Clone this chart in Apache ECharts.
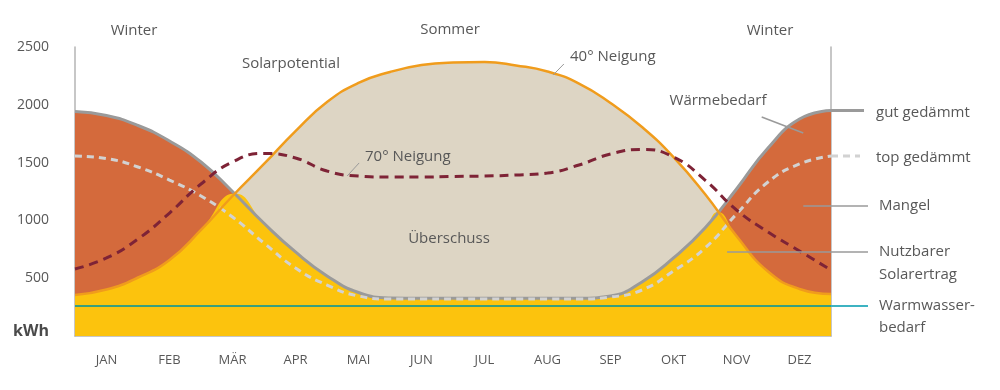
<!DOCTYPE html>
<html><head><meta charset="utf-8">
<script src="https://cdn.jsdelivr.net/npm/echarts@6/dist/echarts.min.js"></script>
<style>html,body{margin:0;padding:0;background:#fff}#c{width:1000px;height:390px}</style>
</head><body><div id="c"></div>
<script>
// ---- data (kWh per month position; positions in months from start of January) ----
const months = ['JAN','FEB','MÄR','APR','MAI','JUN','JUL','AUG','SEP','OKT','NOV','DEZ'];
const monthPos = [0,0.5,1,1.5,2,2.5,3,3.5,4,4.5,5,5.5,6,6.5,7,7.5,8,8.5,9,9.5,10,10.5,11,11.5,12];
const solar40  = [355,402,506,657,917,1211,1488,1773,2024,2189,2284,2344,2366,2370,2340,2288,2184,2016,1808,1548,1228,865,558,407,363];
const solar70  = [580,675,839,1064,1315,1505,1579,1540,1427,1384,1375,1375,1380,1384,1393,1410,1479,1574,1613,1548,1349,1090,900,735,571];
const heatGood = [1942,1907,1821,1687,1505,1250,975,727,520,376,329,326,326,326,326,326,326,346,467,675,934,1272,1626,1877,1951];
const heatTop  = [1557,1535,1462,1349,1211,1029,804,588,441,346,320,320,320,320,320,320,320,337,398,562,761,1055,1332,1488,1557];
const usablePos = [0,0.5,1,1.5,2,2.54,3,3.5,4,4.5,5,5.5,6,6.5,7,7.5,8,8.5,9,9.5,10,10.2,10.5,11,11.5,12];
const usable    = [355,402,506,657,917,1233,975,727,520,376,329,326,326,326,326,326,326,346,467,675,934,1073,865,558,407,363];
const hotWater = 260;
const yTicks = [0,500,1000,1500,2000,2500];

const pairs = (xs, ys) => xs.map((x, i) => [x, ys[i]]);
const FONT = '"Open Sans", "Noto Sans", sans-serif';
const TXT = '#585858';

const chart = echarts.init(document.getElementById('c'), null, {renderer: 'canvas'});
const grid = {left: 75, right: 169, top: 47, bottom: 54};
const smooth = 0.5;

const option = {
  animation: false,
  backgroundColor: '#fff',
  grid: grid,
  xAxis: [
    {type: 'category', data: months, boundaryGap: true, position: 'bottom',
     axisLine: {show: true, lineStyle: {color: '#b5b5b5', width: 1.5}},
     axisTick: {show: false}, splitLine: {show: false},
     axisLabel: {color: TXT, fontFamily: FONT, fontSize: 13, margin: 18}},
    {type: 'value', min: 0, max: 12, show: false}
  ],
  yAxis: [
    {type: 'value', min: yTicks[0], max: yTicks[yTicks.length-1], interval: 500,
     axisLine: {show: true, lineStyle: {color: '#b5b5b5', width: 1.5}},
     axisTick: {show: false}, splitLine: {show: false},
     axisLabel: {color: TXT, fontFamily: FONT, fontSize: 14, margin: 26,
       formatter: v => v === 0 ? '{k|kWh}' : String(v),
       rich: {k: {fontWeight: 'bold', fontSize: 16, color: '#4a4a4a', fontFamily: FONT, padding: [0,0,10,0]}}}},
    {type: 'value', min: yTicks[0], max: yTicks[yTicks.length-1], position: 'right',
     axisLine: {show: true, lineStyle: {color: '#b5b5b5', width: 1.5}},
     axisTick: {show: false}, axisLabel: {show: false}, splitLine: {show: false}}
  ],
  series: [
    {name: 'Überschuss', type: 'line', xAxisIndex: 1, smooth: smooth, symbol: 'none',
     data: pairs(monthPos, solar40), lineStyle: {width: 0}, areaStyle: {color: '#ddd5c4', opacity: 1}, z: 1},
    {name: 'Mangel', type: 'line', xAxisIndex: 1, smooth: smooth, symbol: 'none',
     data: pairs(monthPos, heatGood), lineStyle: {width: 0}, areaStyle: {color: '#d46a3c', opacity: 1}, z: 2},
    {name: 'Nutzbarer Solarertrag', type: 'line', xAxisIndex: 1, smooth: smooth, symbol: 'none',
     data: pairs(usablePos, usable), lineStyle: {width: 0}, areaStyle: {color: '#fcc30d', opacity: 1}, z: 3},
    {name: 'Warmwasserbedarf', type: 'line', xAxisIndex: 1, symbol: 'none',
     data: [[0, hotWater], [12, hotWater]], lineStyle: {color: '#3a9f7c', width: 2}, z: 4},
    {name: 'gut gedämmt', type: 'line', xAxisIndex: 1, smooth: smooth, symbol: 'none',
     data: pairs(monthPos, heatGood), lineStyle: {color: '#9a9a9a', width: 3}, z: 5},
    {name: 'top gedämmt', type: 'line', xAxisIndex: 1, smooth: smooth, symbol: 'none',
     data: pairs(monthPos, heatTop), lineStyle: {color: '#d2d2d2', width: 3, type: [7, 5]}, z: 6},
    {name: '40° Neigung', type: 'line', xAxisIndex: 1, smooth: smooth, symbol: 'none',
     data: pairs(monthPos, solar40), lineStyle: {color: '#f09c1c', width: 2.5}, z: 7},
    {name: '70° Neigung', type: 'line', xAxisIndex: 1, smooth: smooth, symbol: 'none',
     data: pairs(monthPos, solar70), lineStyle: {color: '#7e2336', width: 3, type: [9, 6]}, z: 8}
  ]
};
chart.setOption(option);

// ---- annotations, anchored through the chart's own scales ----
const P = (x, y) => chart.convertToPixel({xAxisIndex: 1, yAxisIndex: 0}, [x, y]);
const rightEdge = P(12, 0)[0];
const g = [];
function text(t, x, y, align, extra) {
  g.push({type: 'text', z: 100, style: Object.assign({text: t, x: x, y: y, fill: TXT, fontFamily: FONT, fontSize: 15,
    align: align || 'left', textAlign: align || 'left', verticalAlign: 'middle', textVerticalAlign: 'middle'}, extra || {})});
}
function line(a, b, stroke, w, dash) {
  g.push({type: 'line', z: 99, shape: {x1: a[0], y1: a[1], x2: b[0], y2: b[1]},
    style: {stroke: stroke, lineWidth: w, lineDash: dash || null}});
}
const yGood = P(12, heatGood[heatGood.length-1])[1];
const yTop = P(12, heatTop[heatTop.length-1])[1];
const yWater = P(12, hotWater)[1];
line([rightEdge, yGood], [rightEdge + 33, yGood], '#9a9a9a', 3);
line([rightEdge, yTop], [rightEdge + 29, yTop], '#d2d2d2', 3, [7, 5]);
line([rightEdge, yWater], [rightEdge + 37, yWater], '#3db3c2', 2);
const mA = P(11.56, 1125); line(mA, [rightEdge + 37, mA[1]], '#9a9a9a', 1.5);
const nA = P(10.35, 727); line(nA, [rightEdge + 37, nA[1]], '#9a9a9a', 1.5);
line(P(10.9, 1894), P(11.56, 1756), '#9a9a9a', 1.5);
line(P(7.59, 2258), P(7.76, 2353), '#9a9a9a', 1);
line(P(4.32, 1384), P(4.51, 1497), '#9a9a9a', 1);

const tx = rightEdge + 45;
text('gut gedämmt', tx, yGood + 2);
text('top gedämmt', tx, yTop + 2);
text('Mangel', tx + 3, mA[1]);
text('Nutzbarer\nSolarertrag', tx + 3, nA[1] + 11, 'left', {lineHeight: 23});
text('Warmwasser-\nbedarf', tx + 3, yWater + 11, 'left', {lineHeight: 22});
text('Wärmebedarf', 718, 101, 'center');
text('40° Neigung', 570, 57);
text('70° Neigung', 365, 157);
text('Solarpotential', 242, 64);
text('Überschuss', 449, 239, 'center');
text('Winter', 134, 31, 'center');
text('Sommer', 450, 30, 'center');
text('Winter', 770, 31, 'center');
chart.setOption({graphic: {elements: g}});
</script>
</body></html>
